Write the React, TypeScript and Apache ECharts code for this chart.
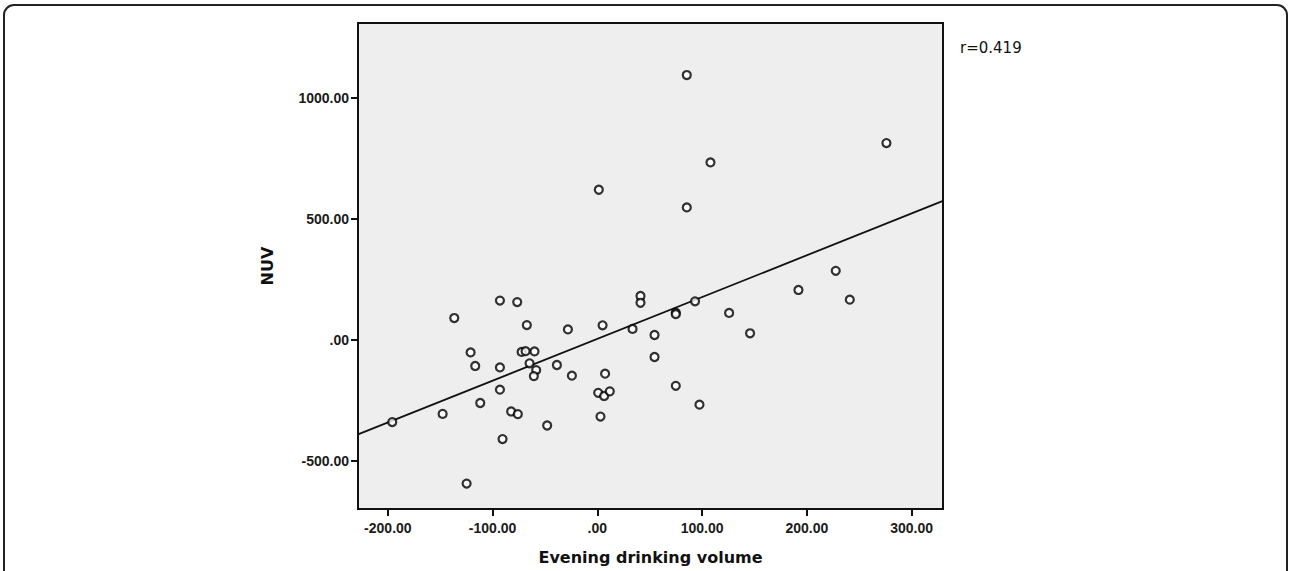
import React, { useEffect, useRef } from "react";
import * as echarts from "echarts";

const drinkVolume = [
  -195.8, -136.6, -121, -116.6, -111.8, -147.7, -124.8, -93, -76.5, -67.3,
  -93, -93, -82.3, -75.9, -90.5, -72.3, -68.5, -60, -64.7, -58.4,
  -60.6, -38.6, -47.9, -28.1, -24.3, 5, 7.4, 0.8, 6.5, 11.9,
  3, 33.6, 41.2, 41.2, 54.6, 54.6, 74.9, 74.9, 93.3, 74.9,
  97.5, 125.8, 145.8, 192, 241, 227.6, 85.4, 108, 85.4, 276, 1.4,
];
const nuv = [
  -340, 90, -52, -108, -261, -306, -594, 162, 156, 61,
  -114, -206, -296, -307, -410, -50, -47, -48, -97, -125,
  -150, -104, -354, 43, -148, 60, -140, -219, -232, -213,
  -317, 45, 181, 153, 20, -71, 112, 106, 159, -190,
  -268, 111, 27, 206, 166, 285, 1094, 733, 547, 813, 620,
];
const fitX = [-228.5, 330];
const fitY = [-391, 574];
const xTicks = [-200, -100, 0, 100, 200, 300];
const yTicks = [-500, 0, 500, 1000];
const rLabel = "r=0.419";

const fmt = (v: number) => (Math.abs(v) < 1e-9 ? ".00" : Number(v).toFixed(2));

export default function App() {
  const ref = useRef<HTMLDivElement>(null);
  useEffect(() => {
    if (!ref.current) return;
    const chart = echarts.init(ref.current, null, { renderer: "svg" });
    const font = "'Liberation Sans', Arial, sans-serif";
    const wide = "'DejaVu Sans', sans-serif";
    chart.setOption({
      animation: false,
      backgroundColor: "#ffffff",
      textStyle: { fontFamily: font },
      grid: {
        left: 358,
        top: 23,
        width: 585,
        height: 486,
        show: true,
        backgroundColor: "#eeeeee",
        borderColor: "#111",
        borderWidth: 2,
      },
      xAxis: {
        type: "value",
        min: -228.5,
        max: 330,
        name: "Evening drinking volume",
        nameLocation: "middle",
        nameGap: 40,
        nameTextStyle: { fontSize: 16, fontWeight: "bold", color: "#111", fontFamily: wide },
        axisLine: { show: true, onZero: false, lineStyle: { color: "#111", width: 2 } },
        axisTick: { show: true, length: 7, customValues: xTicks, lineStyle: { color: "#111", width: 2 } },
        axisLabel: { customValues: xTicks, formatter: fmt, fontSize: 14, fontWeight: "bold", color: "#1a1a1a", margin: 12, fontFamily: font },
        splitLine: { show: false },
      },
      yAxis: {
        type: "value",
        min: -699,
        max: 1309,
        name: "NUV",
        nameLocation: "middle",
        nameGap: 83,
        nameTextStyle: { fontSize: 16, fontWeight: "bold", color: "#111", fontFamily: wide },
        axisLine: { show: true, onZero: false, lineStyle: { color: "#111", width: 2 } },
        axisTick: { show: true, length: 7, customValues: yTicks, lineStyle: { color: "#111", width: 2 } },
        axisLabel: { customValues: yTicks, formatter: fmt, fontSize: 14, fontWeight: "bold", color: "#1a1a1a", margin: 9, fontFamily: font },
        splitLine: { show: false },
      },
      graphic: [
        {
          type: "rect",
          shape: { x: 4, y: 5, width: 1283, height: 620, r: 10 },
          style: { fill: "none", stroke: "#222", lineWidth: 2 },
          silent: true,
        },
        {
          type: "text",
          x: 960,
          y: 48,
          style: { text: rLabel, fontSize: 15, fill: "#111", fontFamily: wide, verticalAlign: "middle" },
        },
      ],
      series: [
        {
          type: "line",
          data: fitX.map((x, i) => [x, fitY[i]]),
          showSymbol: false,
          lineStyle: { color: "#111", width: 1.8 },
          z: 2,
        },
        {
          type: "scatter",
          data: drinkVolume.map((x, i) => [x, nuv[i]]),
          symbol: "circle",
          symbolSize: 8,
          itemStyle: {
            color: "#ffffff",
            borderColor: "#000000",
            borderWidth: 2.2,
          },
          z: 3,
        },
      ],
    });
    return () => chart.dispose();
  }, []);
  return (
    <div
      ref={ref}
      style={{ position: "absolute", left: 0, top: 0, width: 1290, height: 571 }}
    />
  );
}
